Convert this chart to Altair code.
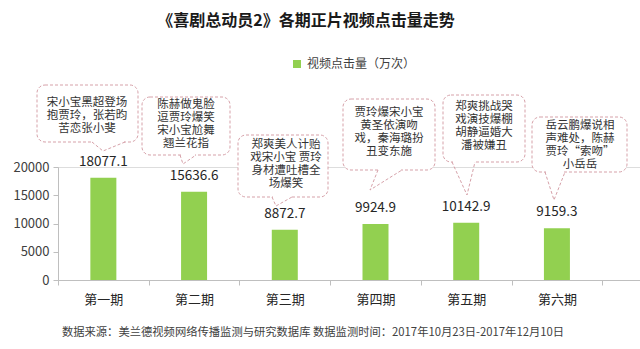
import altair as alt
import pandas as pd

# ---- data ----
episodes = ["第一期", "第二期", "第三期", "第四期", "第五期", "第六期"]
clicks = [18077.1, 15636.6, 8872.7, 9924.9, 10142.9, 9159.3]
series_name = "视频点击量（万次）"
y_ticks = [0, 5000, 10000, 15000, 20000]
notes = [
    ["宋小宝黑超登场", "抱贾玲，张若昀", "苦恋张小斐"],
    ["陈赫做鬼脸", "逗贾玲爆笑", "宋小宝尬舞", "翘兰花指"],
    ["郑爽美人计贻", "戏宋小宝 贾玲", "身材遭吐槽全", "场爆笑"],
    ["贾玲爆宋小宝", "黄圣依演吻", "戏，秦海璐扮", "丑变东施"],
    ["郑爽挑战哭", "戏演技爆棚", "胡静逼婚大", "潘被嫌丑"],
    ["岳云鹏爆说相", "声难处，陈赫", "贾玲“索吻”", "小岳岳"],
]
title_text = "《喜剧总动员2》各期正片视频点击量走势"
source_text = "数据来源：美兰德视频网络传播监测与研究数据库  数据监测时间：2017年10月23日-2017年12月10日"

# ---- layout (pixels, page coordinates) ----
X0, Y0 = 58, 167          # plot origin (left, top = 20000 level)
W, H = 582, 113
FONT = "Noto Sans CJK SC"
GREEN = "#92D050"
PINK = "#D6A1A9"
LINE_H = 13

# bubble boxes: (left, top, right, bottom), first text line centre (x, y), tail base l/r, tip
bubble_layout = [
    ((37, 85, 138, 142), (87, 103), (92, 125), (103, 151)),
    ((142, 97, 230, 155), (186, 105), (180, 196), (183, 164)),
    ((238, 135, 328, 197), (286, 145), (272, 292), (276, 206)),
    ((343, 99, 435, 170), (389, 113), (378, 402), (370, 190)),
    ((443, 95, 525, 162), (484, 107), (452, 475), (467, 195)),
    ((532, 117, 627, 172), (580, 126), (545, 565), (554, 200)),
]

box_rows, text_rows, tail_rows, cover_rows = [], [], [], []
for i, ((l, t, r, b), (cx, cy), (bl, br), (tx, ty)) in enumerate(bubble_layout):
    box_rows.append(dict(x=l - X0, x2=r - X0, y=t - Y0, y2=b - Y0))
    text_rows.append(dict(x=cx - X0, y=cy - Y0, t=notes[i]))
    for k, (px_, py_) in enumerate([(bl, b), (tx, ty), (br, b)]):
        tail_rows.append(dict(id=i, k=k, x=px_ - X0, y=py_ - Y0))
    cover_rows.append(dict(x=bl - X0 + 1, x2=br - X0 - 1, y=b - Y0))

df = pd.DataFrame({"cat": episodes, "value": clicks})

xscale = alt.Scale(domain=episodes + [" "], range=[0, 635], paddingInner=0, paddingOuter=0)
yscale = alt.Scale(domain=[0, 20000])

base = alt.Chart(df).encode(
    x=alt.X("cat:N", scale=xscale, sort=None,
            axis=alt.Axis(title=None, tickBand="extent", labelAngle=0, labelFontSize=13,
                          labelColor="#262626", domainColor="#BFBFBF", tickColor="#BFBFBF",
                          tickSize=5, labelPadding=8, labelFont=FONT)),
    y=alt.Y("value:Q", scale=yscale,
            axis=alt.Axis(title=None, values=y_ticks, format="d", grid=False, labelFontSize=13,
                          labelColor="#404040", domainColor="#BFBFBF", tickColor="#BFBFBF",
                          tickSize=5, labelPadding=4, labelFont=FONT)),
)

bars = base.mark_bar(width=26).transform_calculate(series=f"'{series_name}'").encode(
    color=alt.Color("series:N", scale=alt.Scale(domain=[series_name], range=[GREEN]),
                    legend=alt.Legend(title=None, orient="none", legendX=233, legendY=-109,
                                      symbolType="square", symbolSize=64, symbolStrokeWidth=0,
                                      labelFontSize=12, labelColor="#404040", labelFont=FONT,
                                      padding=0))
)
labels = base.mark_text(fontSize=13.5, dy=-16, color="#262626", font=FONT).encode(
    text=alt.Text("value:Q", format=".1f"))

data_layer = alt.layer(bars, labels)

px = lambda f: alt.X(f"{f}:Q", scale=None, axis=None)
py = lambda f: alt.Y(f"{f}:Q", scale=None, axis=None)

boxes = alt.Chart(pd.DataFrame(box_rows)).mark_rect(
    cornerRadius=8, fill="white", stroke=PINK, strokeDash=[3, 2], strokeWidth=1
).encode(x=px("x"), x2="x2:Q", y=py("y"), y2="y2:Q")

covers = alt.Chart(pd.DataFrame(cover_rows)).mark_rule(color="white", strokeWidth=2).encode(
    x=px("x"), x2="x2:Q", y=py("y"))

tails = alt.Chart(pd.DataFrame(tail_rows)).mark_line(
    color=PINK, strokeDash=[3, 2], strokeWidth=1
).encode(x=px("x"), y=py("y"), detail="id:N", order="k:Q")

btext = alt.Chart(pd.DataFrame(text_rows)).mark_text(
    fontSize=11.5, color="#333333", font=FONT, lineHeight=LINE_H, baseline="middle"
).encode(x=px("x"), y=py("y"), text="t")

annotations = alt.layer(boxes, covers, tails, btext)

source = alt.Chart(pd.DataFrame({"t": [source_text]})).mark_text(
    fontSize=11.3, color="#404040", font=FONT
).encode(x=alt.value(313 - X0), y=alt.value(333 - Y0), text="t:N")

chart = alt.layer(data_layer, annotations, source).resolve_scale(
    x="independent", y="independent"
).resolve_axis(x="independent", y="independent").properties(
    width=W, height=H,
    autosize=alt.AutoSizeParams(type="none"),
    padding={"left": X0, "top": Y0, "right": 0, "bottom": 349 - Y0 - H},
    title=alt.TitleParams(title_text, font=FONT, fontSize=16, fontWeight="bold", color="#1a1a1a",
                          anchor="middle", frame="group", dx=-43, offset=29),
).configure_view(stroke=None).configure(font=FONT)

chart.save("out.html", embed_options={"renderer": "svg", "actions": False})
